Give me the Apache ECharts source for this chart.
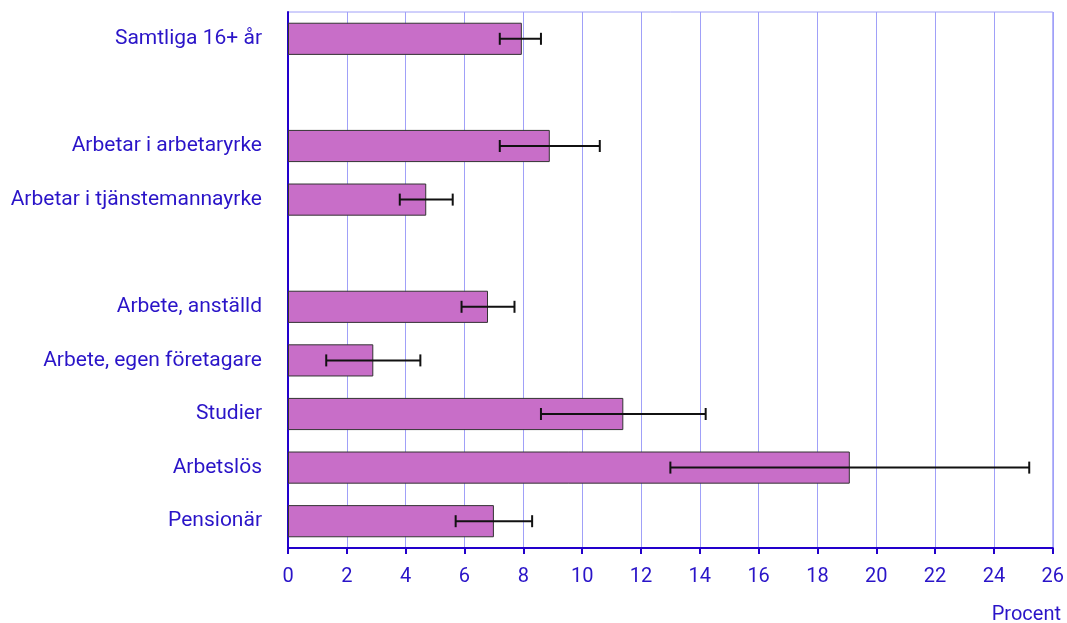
<!DOCTYPE html>
<html><head><meta charset="utf-8">
<script src="https://cdn.jsdelivr.net/npm/echarts@6/dist/echarts.min.js"></script>
<style>html,body{margin:0;padding:0;background:#fff}#c{width:1067px;height:623px}</style>
</head><body><div id="c"></div>
<script>
const categories = ["Samtliga 16+ år", "", "Arbetar i arbetaryrke", "Arbetar i tjänstemannayrke", " ", "Arbete, anställd", "Arbete, egen företagare", "Studier", "Arbetslös", "Pensionär"];
const values = [7.95, null, 8.9, 4.7, null, 6.8, 2.9, 11.4, 19.1, 7.0];
const errLow = [7.2, null, 7.2, 3.8, null, 5.9, 1.3, 8.6, 13.0, 5.7];
const errHigh = [8.6, null, 10.6, 5.6, null, 7.7, 4.5, 14.2, 25.2, 8.3];
const xTicks = {min: 0, max: 26, interval: 2};

const textColor = '#2a14c8';
const axisColor = '#2200cc';
const gridColor = '#a0a0f8';

const errData = categories.map((c, i) => errLow[i] == null ? null : [i, errLow[i], errHigh[i]]).filter(d => d);

const chart = echarts.init(document.getElementById('c'), null, {renderer: 'canvas'});
chart.setOption({
  animation: false,
  textStyle: {fontFamily: 'Roboto'},
  graphic: [{
    type: 'text', right: 6, top: 605,
    style: {text: 'Procent', fill: textColor, font: '20px Roboto'}
  }],
  grid: {left: 288, right: 14, top: 12, bottom: 75, show: true, borderColor: gridColor, borderWidth: 1},
  xAxis: {
    type: 'value', min: xTicks.min, max: xTicks.max, interval: xTicks.interval,
    axisLine: {show: true, lineStyle: {color: axisColor, width: 2}},
    axisTick: {show: true, length: 6, lineStyle: {color: axisColor, width: 2}},
    axisLabel: {color: textColor, fontSize: 20, margin: 19, fontFamily: 'Roboto'},
    splitLine: {show: true, lineStyle: {color: gridColor, width: 1}}
  },
  yAxis: {
    type: 'category', data: categories, inverse: true,
    axisLine: {show: true, lineStyle: {color: axisColor, width: 2}},
    axisTick: {show: false},
    axisLabel: {color: textColor, fontSize: 21, margin: 26, fontFamily: 'Roboto'},
    splitLine: {show: false}
  },
  series: [
    {
      type: 'bar', data: values, barWidth: '60%',
      itemStyle: {color: '#c86ec8', borderColor: '#333333', borderWidth: 1}
    },
    {
      type: 'custom', data: errData, z: 5,
      encode: {y: 0, x: [1, 2]},
      renderItem: function (params, api) {
        const yi = api.value(0);
        const lo = api.coord([api.value(1), yi]);
        const hi = api.coord([api.value(2), yi]);
        const h = 6;
        const st = {stroke: '#111', lineWidth: 2};
        return {type: 'group', children: [
          {type: 'line', shape: {x1: lo[0], y1: lo[1], x2: hi[0], y2: hi[1]}, style: st},
          {type: 'line', shape: {x1: lo[0], y1: lo[1] - h, x2: lo[0], y2: lo[1] + h}, style: st},
          {type: 'line', shape: {x1: hi[0], y1: hi[1] - h, x2: hi[0], y2: hi[1] + h}, style: st}
        ]};
      }
    }
  ]
});
</script></body></html>
